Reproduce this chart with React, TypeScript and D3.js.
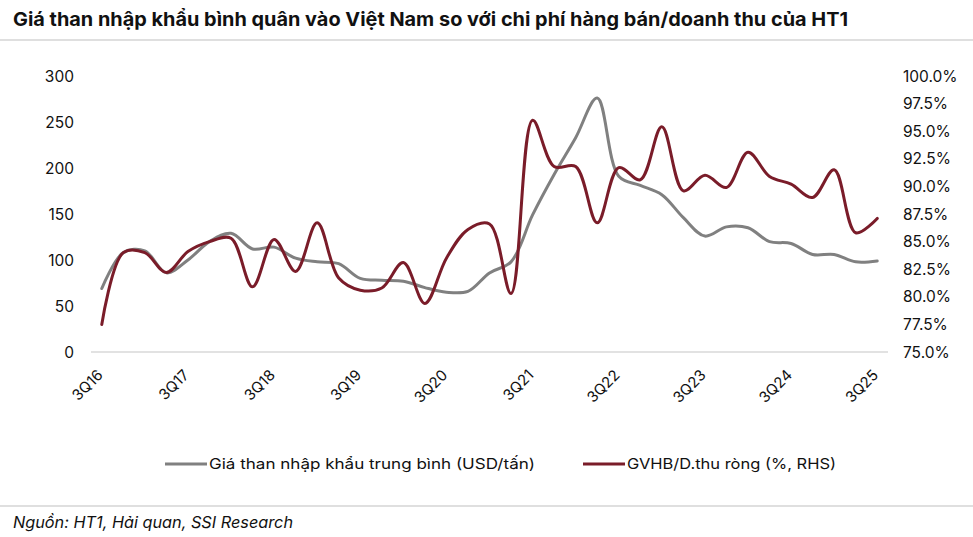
import React from "react";
import * as d3 from "d3";

const quarters = [
  "3Q16","4Q16","1Q17","2Q17","3Q17","4Q17","1Q18","2Q18","3Q18","4Q18",
  "1Q19","2Q19","3Q19","4Q19","1Q20","2Q20","3Q20","4Q20","1Q21","2Q21",
  "3Q21","4Q21","1Q22","2Q22","3Q22","4Q22","1Q23","2Q23","3Q23","4Q23",
  "1Q24","2Q24","3Q24","4Q24","1Q25","2Q25","3Q25",
];
const coalPrice = [
  69, 108, 110, 86, 100, 120, 129, 112, 114, 102,
  98, 96, 80, 78, 77, 70, 65, 66, 86, 98,
  149, 193, 233, 276, 191, 181, 171, 146, 126, 136,
  135, 120, 118, 106, 106, 98, 99,
];
const cogsRatio = [
  77.5, 84.0, 84.0, 82.2, 84.1, 85.0, 85.3, 80.9, 85.2, 82.3,
  86.7, 81.7, 80.6, 80.8, 83.1, 79.4, 83.5, 86.1, 86.6, 80.3,
  96.0, 91.8, 91.8, 86.7, 91.7, 90.6, 95.4, 89.6, 91.0, 89.9,
  93.1, 90.9, 90.2, 89.0, 91.5, 85.8, 87.1,
];
const leftTicks = [0, 50, 100, 150, 200, 250, 300];
const rightTicks = [75, 77.5, 80, 82.5, 85, 87.5, 90, 92.5, 95, 97.5, 100];
const xLabels = ["3Q16","3Q17","3Q18","3Q19","3Q20","3Q21","3Q22","3Q23","3Q24","3Q25"];

const GRAY = "#808080";
const RED = "#7a1c29";
const FONT = "Inter, 'Liberation Sans', sans-serif";

export default function App() {
  const W = 973, H = 537;
  const x = d3.scalePoint<string>().domain(quarters).range([91, 888]).padding(0.5);
  const yL = d3.scaleLinear().domain([0, 300]).range([352, 76]);
  const yR = d3.scaleLinear().domain([75, 100]).range([352, 76]);

  const lineL = d3.line<number>()
    .x((_, i) => x(quarters[i]) as number)
    .y((d) => yL(d))
    .curve(d3.curveCatmullRom.alpha(0.5));
  const lineR = d3.line<number>()
    .x((_, i) => x(quarters[i]) as number)
    .y((d) => yR(d))
    .curve(d3.curveCatmullRom.alpha(0.5));

  return (
    <svg width={W} height={H} style={{ position: "absolute", left: 0, top: 0, background: "#fff" }}>
      <text x={13} y={26} fontFamily={FONT} fontWeight={700} fontSize={19} fill="#111"
        textLength={835} lengthAdjust="spacingAndGlyphs">
        Giá than nhập khẩu bình quân vào Việt Nam so với chi phí hàng bán/doanh thu của HT1
      </text>
      <line x1={0} x2={W} y1={40} y2={40} stroke="#c0c0c0" strokeWidth={1.2} />

      <line x1={91} x2={888} y1={352} y2={352} stroke="#d9d9d9" strokeWidth={1.5} />

      {leftTicks.map((t) => (
        <text key={"l" + t} x={74} y={yL(t)} dy="0.36em" textAnchor="end"
          fontFamily={FONT} fontSize={15.5} fill="#111">{t}</text>
      ))}
      {rightTicks.map((t) => (
        <text key={"r" + t} x={903} y={yR(t)} dy="0.36em" textAnchor="start"
          fontFamily={FONT} fontSize={15.5} fill="#111">{t.toFixed(1) + "%"}</text>
      ))}
      {xLabels.map((q) => (
        <text key={q} transform={`translate(${(x(q) as number) + 2},${376}) rotate(-45)`}
          textAnchor="end" fontFamily={FONT} fontSize={15} fill="#111">{q}</text>
      ))}

      <path d={lineL(coalPrice) || ""} fill="none" stroke={GRAY} strokeWidth={3} strokeLinecap="round" />
      <path d={lineR(cogsRatio) || ""} fill="none" stroke={RED} strokeWidth={3} strokeLinecap="round" />

      <line x1={165} x2={207} y1={464} y2={464} stroke={GRAY} strokeWidth={3} />
      <text x={209} y={464} dy="0.36em" fontFamily={FONT} fontSize={14.5} fill="#111"
        textLength={326} lengthAdjust="spacingAndGlyphs">Giá than nhập khẩu trung bình (USD/tấn)</text>
      <line x1={583} x2={625} y1={464} y2={464} stroke={RED} strokeWidth={3} />
      <text x={627} y={464} dy="0.36em" fontFamily={FONT} fontSize={14.5} fill="#111"
        textLength={209} lengthAdjust="spacingAndGlyphs">GVHB/D.thu ròng (%, RHS)</text>

      <line x1={0} x2={W} y1={506} y2={506} stroke="#c0c0c0" strokeWidth={1.2} />
      <text x={13} y={528} fontFamily={FONT} fontStyle="italic" fontSize={16} fill="#111"
        textLength={280} lengthAdjust="spacingAndGlyphs">Nguồn: HT1, Hải quan, SSI Research</text>
    </svg>
  );
}
